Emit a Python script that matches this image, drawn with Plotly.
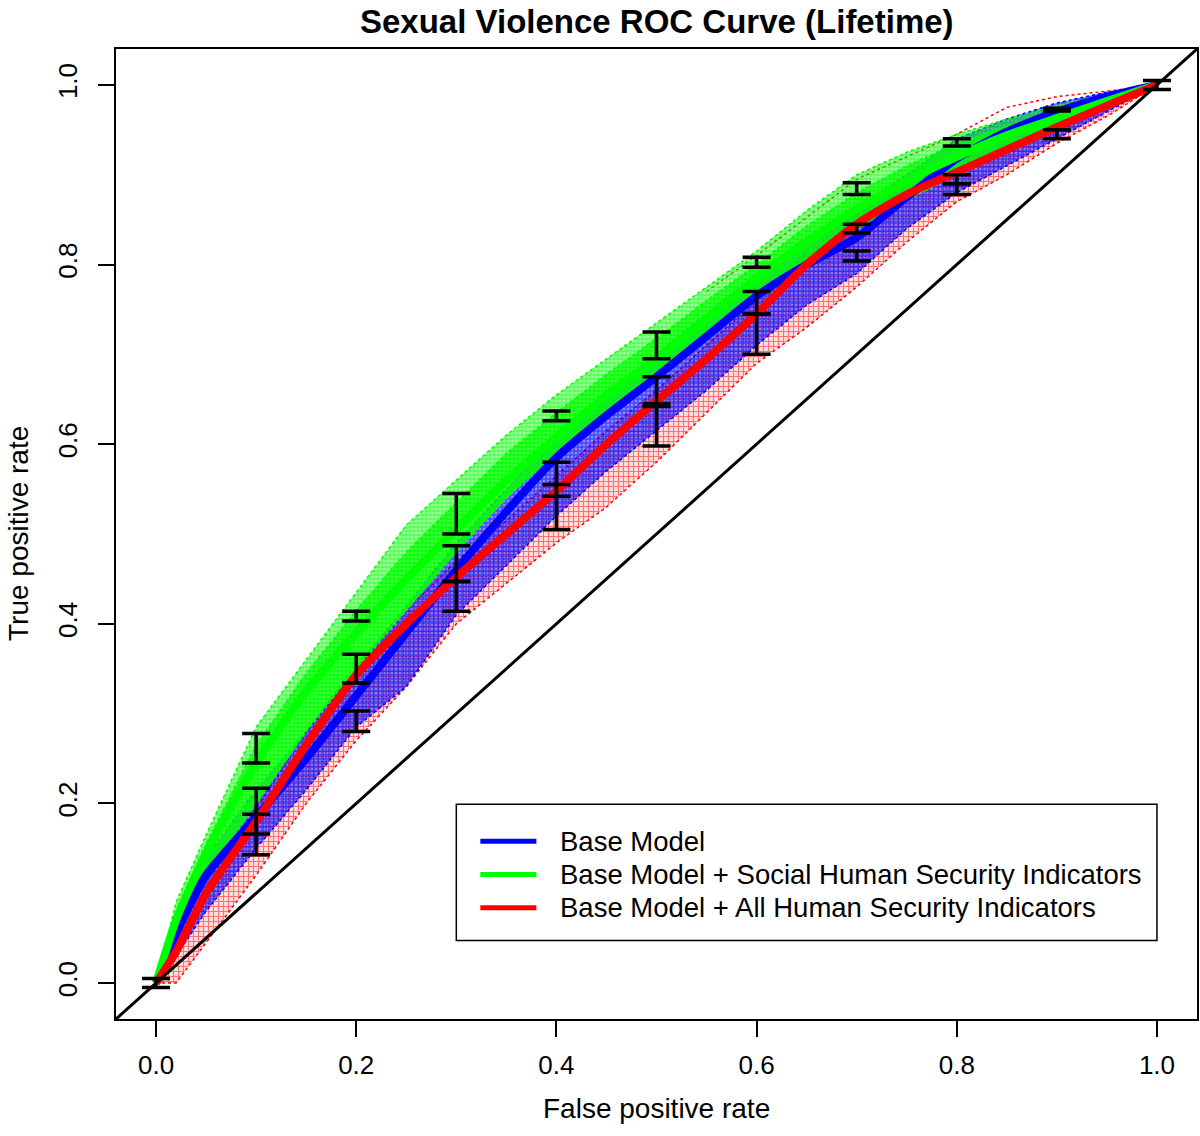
import plotly.graph_objects as go

# ---------------- data ----------------
fpr = [0, 0.02, 0.05, 0.1, 0.15, 0.2, 0.25, 0.3, 0.35, 0.4, 0.45, 0.5,
       0.55, 0.6, 0.65, 0.7, 0.75, 0.8, 0.85, 0.9, 0.95, 1.0]

base_mean = [0, 0.055, 0.12, 0.185, 0.25, 0.32, 0.39, 0.46, 0.525, 0.585, 0.632, 0.675,
             0.72, 0.765, 0.80, 0.83, 0.875, 0.918, 0.948, 0.97, 0.987, 1.0]
social_mean = [0, 0.07, 0.145, 0.245, 0.325, 0.39, 0.45, 0.505, 0.56, 0.608, 0.655, 0.695,
               0.74, 0.785, 0.825, 0.862, 0.893, 0.92, 0.944, 0.963, 0.982, 1.0]
all_mean = [0, 0.035, 0.10, 0.18, 0.265, 0.343, 0.40, 0.452, 0.50, 0.548, 0.60, 0.648,
            0.695, 0.745, 0.80, 0.845, 0.878, 0.903, 0.928, 0.953, 0.977, 1.0]

# spread of the individual (dashed) run curves
base_lo = [0, 0.03, 0.08, 0.15, 0.215, 0.285, 0.33, 0.41, 0.465, 0.52, 0.57, 0.615,
           0.66, 0.71, 0.755, 0.79, 0.84, 0.88, 0.91, 0.94, 0.97, 1.0]
base_hi = [0, 0.075, 0.14, 0.215, 0.28, 0.35, 0.42, 0.49, 0.55, 0.61, 0.655, 0.70,
           0.745, 0.79, 0.83, 0.865, 0.90, 0.94, 0.962, 0.98, 0.992, 1.0]
social_lo = [0, 0.05, 0.12, 0.20, 0.28, 0.35, 0.415, 0.48, 0.54, 0.59, 0.637, 0.68,
             0.725, 0.77, 0.805, 0.84, 0.872, 0.90, 0.928, 0.95, 0.975, 1.0]
social_core_hi = [0, 0.08, 0.155, 0.265, 0.345, 0.415, 0.48, 0.535, 0.59, 0.635, 0.678, 0.718,
                  0.76, 0.80, 0.843, 0.88, 0.91, 0.935, 0.955, 0.972, 0.988, 1.0]
social_hi = [0, 0.09, 0.165, 0.285, 0.36, 0.435, 0.51, 0.56, 0.61, 0.655, 0.695, 0.735,
             0.775, 0.815, 0.86, 0.90, 0.925, 0.945, 0.962, 0.977, 0.99, 1.0]
all_lo = [0, 0.0, 0.045, 0.12, 0.20, 0.27, 0.33, 0.40, 0.445, 0.49, 0.53, 0.58,
          0.635, 0.69, 0.73, 0.775, 0.825, 0.87, 0.90, 0.935, 0.965, 1.0]
all_hi = [0, 0.05, 0.115, 0.195, 0.28, 0.355, 0.415, 0.47, 0.515, 0.565, 0.615, 0.66,
          0.71, 0.76, 0.815, 0.858, 0.893, 0.92, 0.945, 0.967, 0.985, 1.0]
all_top_x = [0.55, 0.6, 0.7, 0.8, 0.85, 0.9, 0.95, 1.0]
all_top_y = [0.77, 0.81, 0.895, 0.945, 0.975, 0.987, 0.993, 1.0]

# error bars (x, lower, upper) as visible in the picture
bar_x = [0.0,
         0.1, 0.1, 0.1,
         0.2, 0.2, 0.2,
         0.3, 0.3, 0.3,
         0.4, 0.4, 0.4,
         0.5, 0.5, 0.5,
         0.6, 0.6, 0.6,
         0.7, 0.7, 0.7,
         0.8, 0.8, 0.8,
         0.9, 0.9,
         1.0]
bar_lo = [-0.005,
          0.245, 0.166, 0.143,
          0.403, 0.334, 0.280,
          0.500, 0.447, 0.414,
          0.626, 0.542, 0.505,
          0.695, 0.642, 0.598,
          0.797, 0.745, 0.700,
          0.878, 0.835, 0.804,
          0.932, 0.890, 0.878,
          0.971, 0.940,
          0.995]
bar_hi = [0.005,
          0.278, 0.217, 0.188,
          0.414, 0.366, 0.303,
          0.545, 0.487, 0.447,
          0.637, 0.580, 0.555,
          0.725, 0.675, 0.645,
          0.808, 0.770, 0.745,
          0.891, 0.845, 0.815,
          0.940, 0.900, 0.890,
          0.974, 0.950,
          1.005]

labels = ["Base Model",
          "Base Model + Social Human Security Indicators",
          "Base Model + All Human Security Indicators"]
tick_vals = [0, 0.2, 0.4, 0.6, 0.8, 1.0]
tick_text = ["0.0", "0.2", "0.4", "0.6", "0.8", "1.0"]

BLUE = "rgb(0,0,255)"
GREEN = "rgb(0,255,0)"
RED = "rgb(255,0,0)"
FONT = "Liberation Sans, Arial, sans-serif"

fig = go.Figure()


def band(lo, hi, color, bg, size, solidity, x=fpr):
    fig.add_trace(go.Scatter(x=x, y=lo, mode="lines",
                             line=dict(color=color, width=1.5, dash="dot"),
                             showlegend=False, hoverinfo="skip"))
    fig.add_trace(go.Scatter(x=x, y=hi, mode="lines", fill="tonexty",
                             fillcolor=bg,
                             fillpattern=dict(shape="+", fgcolor=color, bgcolor=bg,
                                              size=size, solidity=solidity),
                             line=dict(color=color, width=1.5, dash="dot"),
                             showlegend=False, hoverinfo="skip"))


# clouds of individual run curves
band(all_lo, all_hi, RED, "rgba(255,0,0,0.12)", 5, 0.4)
fig.add_trace(go.Scatter(x=all_top_x, y=all_top_y, mode="lines",
                         line=dict(color=RED, width=1.5, dash="dot"),
                         showlegend=False, hoverinfo="skip"))
band(base_lo, base_hi, BLUE, "rgba(0,0,255,0.45)", 4, 0.6)
band(social_lo, social_hi, GREEN, "rgba(0,255,0,0.35)", 4, 0.55)
band(social_lo, social_core_hi, GREEN, "rgba(0,255,0,0.6)", 4, 0.7)

# average curves
for ys, col in [(base_mean, BLUE), (social_mean, GREEN), (all_mean, RED)]:
    fig.add_trace(go.Scatter(x=fpr, y=ys, mode="lines",
                             line=dict(color=col, width=8, shape="spline", smoothing=0.6),
                             showlegend=False, hoverinfo="skip"))

# chance diagonal
fig.add_trace(go.Scatter(x=[-0.04, 1.04], y=[-0.04, 1.04], mode="lines",
                         line=dict(color="black", width=3),
                         showlegend=False, hoverinfo="skip"))

# error bars
mid = [(a + b) / 2 for a, b in zip(bar_lo, bar_hi)]
half = [(b - a) / 2 for a, b in zip(bar_lo, bar_hi)]
fig.add_trace(go.Scatter(x=bar_x, y=mid, mode="markers",
                         marker=dict(size=1, color="black"),
                         error_y=dict(type="data", array=half, symmetric=True,
                                      color="black", thickness=3.5, width=14),
                         showlegend=False, hoverinfo="skip"))

# legend (drawn in data coordinates)
leg_x0, leg_x1, leg_y0, leg_y1 = 0.300, 1.000, 0.0475, 0.199
fig.add_shape(type="rect", x0=leg_x0, x1=leg_x1, y0=leg_y0, y1=leg_y1,
              line=dict(color="black", width=1.5), fillcolor="white", layer="above")
leg_rows = [0.158, 0.121, 0.084]
for lab, col, yy in zip(labels, [BLUE, GREEN, RED], leg_rows):
    fig.add_shape(type="line", x0=0.324, x1=0.380, y0=yy, y1=yy,
                  line=dict(color=col, width=5), layer="above")
    fig.add_annotation(x=0.402, y=yy, text=lab, showarrow=False, xanchor="left",
                       yanchor="middle", font=dict(family=FONT, size=27.5, color="black"))

# titles
fig.add_annotation(xref="paper", yref="paper", x=0.5, y=1, yshift=28,
                   text="<b>Sexual Violence ROC Curve (Lifetime)</b>",
                   showarrow=False, xanchor="center", yanchor="middle",
                   font=dict(family=FONT, size=33, color="black"))
fig.add_annotation(xref="paper", yref="paper", x=0.5, y=0, yshift=-89,
                   text="False positive rate",
                   showarrow=False, xanchor="center", yanchor="middle",
                   font=dict(family=FONT, size=28, color="black"))
fig.add_annotation(xref="paper", yref="paper", x=0, xshift=-98, y=0.5,
                   text="True positive rate",
                   showarrow=False, xanchor="center", yanchor="middle", textangle=-90,
                   font=dict(family=FONT, size=28, color="black"))

axis_common = dict(range=[-0.04, 1.04], tickvals=tick_vals, ticktext=tick_text,
                   ticks="outside", ticklen=16, tickwidth=2, tickcolor="black",
                   showline=True, linewidth=2, linecolor="black", mirror=True,
                   showgrid=False, zeroline=False, automargin=False,
                   tickfont=dict(family=FONT, size=26, color="black"))
fig.update_layout(
    width=1200, height=1136,
    margin=dict(l=116, r=3, t=49, b=117),
    paper_bgcolor="white", plot_bgcolor="white",
    showlegend=False,
    xaxis=dict(**axis_common, ticklabelstandoff=6),
    yaxis=dict(**axis_common, tickangle=-90, ticklabelstandoff=11),
)

# remove the browser's default 8 px page margin so the figure fills the window exactly
fig.write_html("out.html", config={"displayModeBar": False},
               post_script="document.body.style.margin='0px';")
